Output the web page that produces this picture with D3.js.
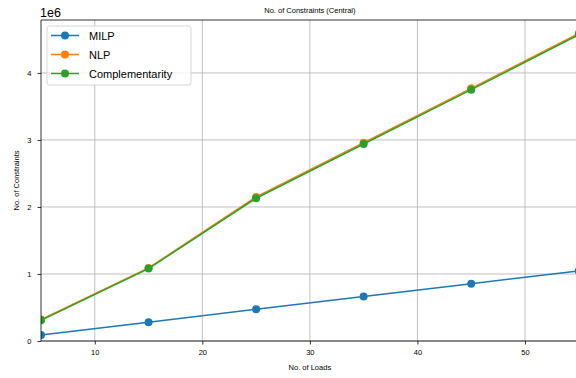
<!DOCTYPE html>
<html><head><meta charset="utf-8">
<script src="https://cdn.jsdelivr.net/npm/d3@7"></script>
<style>body{margin:0;background:#fff}svg{display:block;font-family:"Liberation Sans",Arial,sans-serif}</style>
</head><body>
<svg id="c" width="576" height="378"></svg>
<script>
const loads = [5, 15, 25, 35, 45, 55];
const milp = [0.09e6, 0.28e6, 0.475e6, 0.665e6, 0.855e6, 1.045e6];
const nlp = [0.32e6, 1.09e6, 2.15e6, 2.96e6, 3.77e6, 4.59e6];
const compl = [0.31e6, 1.08e6, 2.13e6, 2.94e6, 3.75e6, 4.57e6];
const xTicks = [10, 20, 30, 40, 50];
const yTicks = [0, 1e6, 2e6, 3e6, 4e6];
const seriesNames = ["MILP", "NLP", "Complementarity"];
const colors = ["#1f77b4", "#ff7f0e", "#2ca02c"];

const svg = d3.select("#c");
const L = 41, R = 578.75, T = 20, B = 341;
const x = d3.scaleLinear().domain([5, 55]).range([L, R]);
const y = d3.scaleLinear().domain([0, 4.79e6]).range([B, T]);

svg.append("defs").append("clipPath").attr("id","cp")
  .append("rect").attr("x",L).attr("y",T).attr("width",R-L).attr("height",B-T);

// grid
const g = svg.append("g");
g.selectAll(".gx").data(xTicks).join("line")
  .attr("x1",d=>x(d)).attr("x2",d=>x(d)).attr("y1",T).attr("y2",B)
  .attr("stroke","#b0b0b0").attr("stroke-width",0.8);
g.selectAll(".gy").data(yTicks).join("line")
  .attr("x1",L).attr("x2",R).attr("y1",d=>y(d)).attr("y2",d=>y(d))
  .attr("stroke","#b0b0b0").attr("stroke-width",0.8);

// series
const data = [milp, nlp, compl];
const line = d3.line().x((d,i)=>x(loads[i])).y(d=>y(d));
const plot = svg.append("g").attr("clip-path","url(#cp)");
data.forEach((s,k)=>{
  plot.append("path").attr("d",line(s)).attr("fill","none")
    .attr("stroke",colors[k]).attr("stroke-width",1.5);
  plot.selectAll(null).data(s).join("circle")
    .attr("cx",(d,i)=>x(loads[i])).attr("cy",d=>y(d)).attr("r",4)
    .attr("fill",colors[k]);
});

// axes
const xa = svg.append("g").attr("transform",`translate(0,${B})`)
  .call(d3.axisBottom(x).tickValues(xTicks).tickSize(3.5).tickPadding(5).tickFormat(d3.format("d")));
const ya = svg.append("g").attr("transform",`translate(${L},0)`)
  .call(d3.axisLeft(y).tickValues(yTicks).tickSize(3.5).tickPadding(6).tickFormat(d=>d/1e6));
[xa,ya].forEach(a=>{
  a.select(".domain").remove();
  a.selectAll("line").attr("stroke","#000").attr("stroke-width",0.8);
  a.selectAll("text").attr("font-size",7.5).attr("fill","#000").attr("font-family","Liberation Sans, Arial, sans-serif");
});
// spines
svg.append("line").attr("x1",L).attr("x2",L).attr("y1",T).attr("y2",B).attr("stroke","#000").attr("stroke-width",0.8);
svg.append("line").attr("x1",L).attr("x2",R).attr("y1",B).attr("y2",B).attr("stroke","#000").attr("stroke-width",0.8);
svg.append("line").attr("x1",L).attr("x2",R).attr("y1",T).attr("y2",T).attr("stroke","#000").attr("stroke-width",0.8);

// texts
svg.append("text").attr("x",(L+R)/2).attr("y",13).attr("text-anchor","middle").attr("font-size",7.5).text("No. of Constraints (Central)");
svg.append("text").attr("x",(L+R)/2).attr("y",370).attr("text-anchor","middle").attr("font-size",7.5).text("No. of Loads");
svg.append("text").attr("transform",`translate(19,${(T+B)/2}) rotate(-90)`).attr("text-anchor","middle").attr("font-size",7.5).text("No. of Constraints");
svg.append("text").attr("x",40).attr("y",17).attr("font-size",12.5).text("1e6");

// legend
const lg = svg.append("g");
lg.append("rect").attr("x",47).attr("y",26).attr("width",144).attr("height",59).attr("rx",2.5)
  .attr("fill","#fff").attr("fill-opacity",0.8).attr("stroke","#ccc").attr("stroke-width",0.8);
seriesNames.forEach((n,k)=>{
  const yy = 35.5 + k*19;
  lg.append("line").attr("x1",51).attr("x2",79).attr("y1",yy).attr("y2",yy).attr("stroke",colors[k]).attr("stroke-width",1.5);
  lg.append("circle").attr("cx",65).attr("cy",yy).attr("r",4).attr("fill",colors[k]);
  lg.append("text").attr("x",89).attr("y",yy+4).attr("font-size",11).text(n);
});
</script>
</body></html>
